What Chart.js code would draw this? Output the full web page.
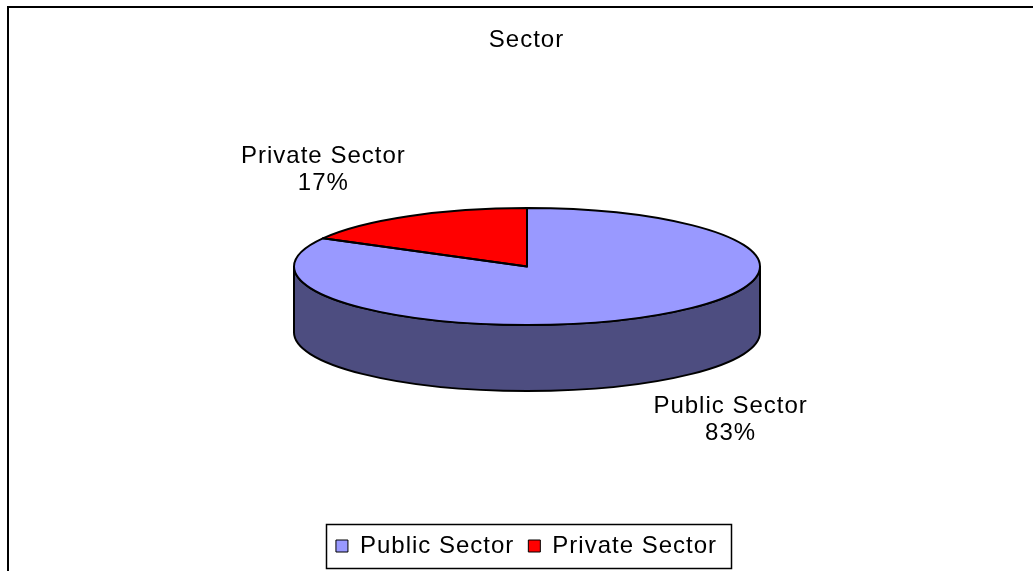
<!DOCTYPE html>
<html>
<head>
<meta charset="utf-8">
<title>Sector</title>
<script src="https://cdn.jsdelivr.net/npm/chart.js@4.4.0/dist/chart.umd.min.js"></script>
<style>
    html, body { margin: 0; padding: 0; background: #fff; }
    canvas { display: block; }
</style>
</head>
<body>
<canvas id="sectorChart" width="1033" height="571"></canvas>
<script>
const sectorLabels = ['Public Sector', 'Private Sector'];
const sectorShares = [83, 17];
const topColors = ['#9999ff', '#ff0000'];
const sideColors = ['#4d4d80', '#800000'];

const FONT_FAMILY = "'Liberation Sans', Arial, sans-serif";
const FONT_SIZE = 24;

// tilted pie: top ellipse and how thick the side wall is
const PIE = { cx: 527, cy: 266.5, rx: 233, ry: 58.5, depth: 66 };
// outside labels sit on a wider ellipse along each slice's middle direction
const LABEL_RX = 400;
const LABEL_RY = 107;
const LABEL_SHIFT = -5;
const LABEL_LINE = 27;

function frontParts(start, end) {
    // pieces of [start, end] that face the viewer (canvas angles 0..PI)
    const parts = [];
    for (let k = -1; k <= 1; k++) {
        const a = Math.max(start, k * 2 * Math.PI);
        const b = Math.min(end, k * 2 * Math.PI + Math.PI);
        if (b > a) parts.push([a, b]);
    }
    return parts;
}

const pie3d = {
    id: 'pie3d',
    beforeUpdate(chart) {
        chart.ctx.letterSpacing = '1px';
    },
    beforeDraw(chart) {
        const ctx = chart.ctx;
        ctx.save();
        ctx.fillStyle = '#fff';
        ctx.fillRect(0, 0, chart.width, chart.height);
        ctx.strokeStyle = '#000';
        ctx.lineWidth = 2;
        ctx.strokeRect(8, 7, chart.width + 20, chart.height + 20);
        ctx.restore();
    },
    beforeDatasetsDraw(chart) {
        const ctx = chart.ctx;
        const arcs = chart.getDatasetMeta(0).data;

        // side wall first, under the top face
        ctx.save();
        ctx.lineWidth = 2;
        ctx.strokeStyle = '#000';
        arcs.forEach((arc, i) => {
            frontParts(arc.startAngle, arc.endAngle).forEach(([a, b]) => {
                ctx.beginPath();
                ctx.ellipse(PIE.cx, PIE.cy, PIE.rx, PIE.ry, 0, a, b, false);
                ctx.ellipse(PIE.cx, PIE.cy + PIE.depth, PIE.rx, PIE.ry, 0, b, a, true);
                ctx.closePath();
                ctx.fillStyle = sideColors[i];
                ctx.fill();
                ctx.stroke();
            });
        });
        ctx.restore();

        // squash the library's round pie onto the top ellipse
        const r = arcs[0].outerRadius;
        ctx.save();
        ctx.translate(PIE.cx, PIE.cy);
        ctx.scale(PIE.rx / r, PIE.ry / r);
        ctx.translate(-arcs[0].x, -arcs[0].y);
    },
    afterDatasetsDraw(chart) {
        const ctx = chart.ctx;
        ctx.restore();

        const arcs = chart.getDatasetMeta(0).data;
        const total = sectorShares.reduce((a, b) => a + b, 0);

        ctx.save();
        ctx.lineWidth = 2;
        ctx.lineJoin = 'round';
        ctx.strokeStyle = '#000';
        arcs.forEach(arc => {
            ctx.beginPath();
            ctx.moveTo(PIE.cx, PIE.cy);
            ctx.ellipse(PIE.cx, PIE.cy, PIE.rx, PIE.ry, 0, arc.startAngle, arc.endAngle, false);
            ctx.closePath();
            ctx.stroke();
        });

        // category name and percentage outside each slice
        ctx.fillStyle = '#000';
        ctx.font = FONT_SIZE + 'px ' + FONT_FAMILY;
        ctx.textAlign = 'center';
        ctx.textBaseline = 'middle';
        arcs.forEach((arc, i) => {
            const mid = (arc.startAngle + arc.endAngle) / 2;
            const dx = Math.cos(mid), dy = Math.sin(mid);
            const baseY = dy > 0 ? PIE.cy + PIE.depth : PIE.cy;
            const x = PIE.cx + LABEL_RX * dx;
            const y = baseY + LABEL_RY * dy + LABEL_SHIFT;
            const pct = Math.round(sectorShares[i] / total * 100) + '%';
            ctx.fillText(sectorLabels[i], x, y - LABEL_LINE / 2);
            ctx.fillText(pct, x, y + LABEL_LINE / 2);
        });
        ctx.restore();
    },
    afterDraw(chart) {
        // frame round the legend entries
        const boxes = chart.legend && chart.legend.legendHitBoxes;
        if (!boxes || !boxes.length) return;
        const left = Math.min(...boxes.map(b => b.left));
        const right = Math.max(...boxes.map(b => b.left + b.width));
        const mid = boxes[0].top + boxes[0].height / 2;
        const ctx = chart.ctx;
        ctx.save();
        ctx.strokeStyle = '#000';
        ctx.lineWidth = 1.5;
        ctx.strokeRect(Math.round(left - 10) + 0.5, Math.round(mid - 22) + 0.5, Math.round(right - left + 24), 44);
        ctx.restore();
    }
};

function legendItems(chart) {
    const base = Chart.overrides.pie.plugins.legend.labels.generateLabels;
    return base(chart).map(item => Object.assign(item, { strokeStyle: '#000', lineWidth: 1 }));
}

new Chart(document.getElementById('sectorChart'), {
    type: 'pie',
    data: {
        labels: sectorLabels,
        datasets: [{
            data: sectorShares,
            backgroundColor: topColors,
            borderWidth: 0
        }]
    },
    plugins: [pie3d],
    options: {
        responsive: false,
        animation: false,
        events: [],
        layout: { padding: { top: 0, bottom: 3, left: 20, right: 0 } },
        plugins: {
            title: {
                display: true,
                text: 'Sector',
                color: '#000',
                font: { family: FONT_FAMILY, size: FONT_SIZE, weight: 'normal' },
                padding: { top: 26, bottom: 10 }
            },
            legend: {
                position: 'bottom',
                labels: {
                    color: '#000',
                    font: { family: FONT_FAMILY, size: FONT_SIZE },
                    boxWidth: 12,
                    boxHeight: 12,
                    padding: 14,
                    generateLabels: legendItems
                }
            },
            tooltip: { enabled: false }
        }
    }
});
</script>
</body>
</html>
